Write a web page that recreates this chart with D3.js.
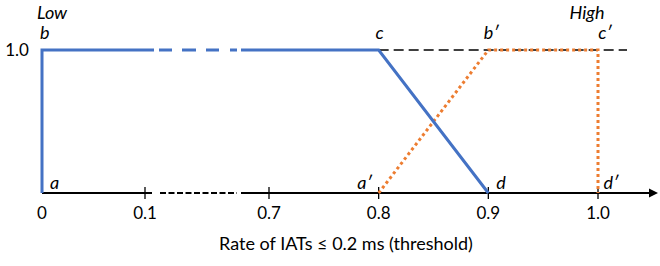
<!DOCTYPE html>
<html><head><meta charset="utf-8">
<script src="https://cdn.jsdelivr.net/npm/d3@7"></script>
<style>body{margin:0;background:#fff}svg{display:block}text{font-family:Lato,"Open Sans",sans-serif;fill:#000}</style>
</head><body><svg id="c" width="660" height="266"></svg>
<script>
// data
const xBreakDomain = [0, 0.1, 0.7, 1.0];
const tickValues = [0, 0.1, 0.7, 0.8, 0.9, 1.0];
const tickLabels = ["0", "0.1", "0.7", "0.8", "0.9", "1.0"];
const lowX = [0, 0, 0.8, 0.9];
const lowY = [0, 1, 1, 0];
const highX = [0.8, 0.9, 1.0, 1.0];
const highY = [0, 1, 1, 0];
const pointNames = ["a", "b", "c", "d", "a′", "b′", "c′", "d′"];
const pointX = [0, 0, 0.8, 0.9, 0.8, 0.9, 1.0, 1.0];
const pointY = [0, 1, 1, 0, 0, 1, 1, 0];
const groupNames = ["Low", "High"];
const groupX = [0, 0.99];
const axisTitle = "Rate of IATs ≤ 0.2 ms (threshold)";
const yLabel = "1.0";

const svg = d3.select("#c");
const x = d3.scaleLinear().domain(xBreakDomain).range([42, 145, 269, 598]);
const y = d3.scaleLinear().domain([0, 1]).range([193, 50]);
const blue = "#4472C4", orange = "#ED7D31";

// reference dashed line at y=1
svg.append("line").attr("x1", x(0.8)).attr("x2", x(1.0) + 29)
  .attr("y1", y(1)).attr("y2", y(1))
  .attr("stroke", "#000").attr("stroke-width", 1.5).attr("stroke-dasharray", "10,5");

// x axis (broken)
const ax = svg.append("g");
const by = y(0);
ax.append("line").attr("x1", x(0)).attr("x2", x(0.1) + 7).attr("y1", by).attr("y2", by).attr("stroke", "#000").attr("stroke-width", 1.8);
ax.append("line").attr("x1", x(0.1) + 15).attr("x2", x(0.7) - 32).attr("y1", by).attr("y2", by).attr("stroke", "#000").attr("stroke-width", 1.8).attr("stroke-dasharray", "6,2.5");
ax.append("line").attr("x1", x(0.7) - 28).attr("x2", x(1.0) + 54).attr("y1", by).attr("y2", by).attr("stroke", "#000").attr("stroke-width", 1.8);
ax.append("path").attr("d", `M${x(1.0)+51},${by-4.5}L${x(1.0)+60},${by}L${x(1.0)+51},${by+4.5}Z`).attr("fill", "#000");
ax.selectAll(".tk").data(tickValues.filter(v => v > 0)).join("line")
  .attr("x1", d => x(d)).attr("x2", d => x(d)).attr("y1", by - 6).attr("y2", by + 6)
  .attr("stroke", "#000").attr("stroke-width", 1.3);
ax.selectAll(".tl").data(tickValues).join("text")
  .attr("x", d => x(d)).attr("y", 219).attr("text-anchor", "middle").attr("font-size", 17)
  .text((d, i) => tickLabels[i]);
svg.append("text").attr("x", 346).attr("y", 250).attr("text-anchor", "middle").attr("font-size", 18).text(axisTitle);
svg.append("text").attr("x", 17).attr("y", 56).attr("text-anchor", "middle").attr("font-size", 17).text(yLabel);

const line = d3.line().x(d => x(d[0])).y(d => y(d[1]));
// high (orange dotted)
svg.append("path").attr("d", line(highX.map((v, i) => [v, highY[i]])))
  .attr("fill", "none").attr("stroke", orange).attr("stroke-width", 3).attr("stroke-dasharray", "3,3");
// low (blue, with break on top)
const vlen = y(0) - y(1);
svg.append("path").attr("d", line(lowX.map((v, i) => [v, lowY[i]])))
  .attr("fill", "none").attr("stroke", blue).attr("stroke-width", 3).attr("stroke-linejoin", "miter")
  .attr("stroke-dasharray", `${vlen + 112},5,13,10,14,10,13,11,7,4,2000`);

// point labels
const off = {"a": [8, -4], "b": [-2, -11], "c": [1, -11], "d": [8, -4], "a′": [-14, -4], "b′": [3, -11], "c′": [7, -11], "d′": [13, -4]};
svg.selectAll(".pl").data(pointNames).join("text")
  .attr("x", (d, i) => x(pointX[i]) + off[d][0])
  .attr("y", (d, i) => y(pointY[i]) + off[d][1])
  .attr("text-anchor", d => d === "a" || d === "d" || d === "b" ? "start" : "middle")
  .attr("font-style", "italic").attr("font-size", 18).text(d => d);
svg.selectAll(".gl").data(groupNames).join("text")
  .attr("x", (d, i) => x(groupX[i]) + (i === 0 ? -5 : 0))
  .attr("y", 19).attr("text-anchor", (d, i) => i === 0 ? "start" : "middle")
  .attr("font-style", "italic").attr("font-size", 18).text(d => d);
</script></body></html>
